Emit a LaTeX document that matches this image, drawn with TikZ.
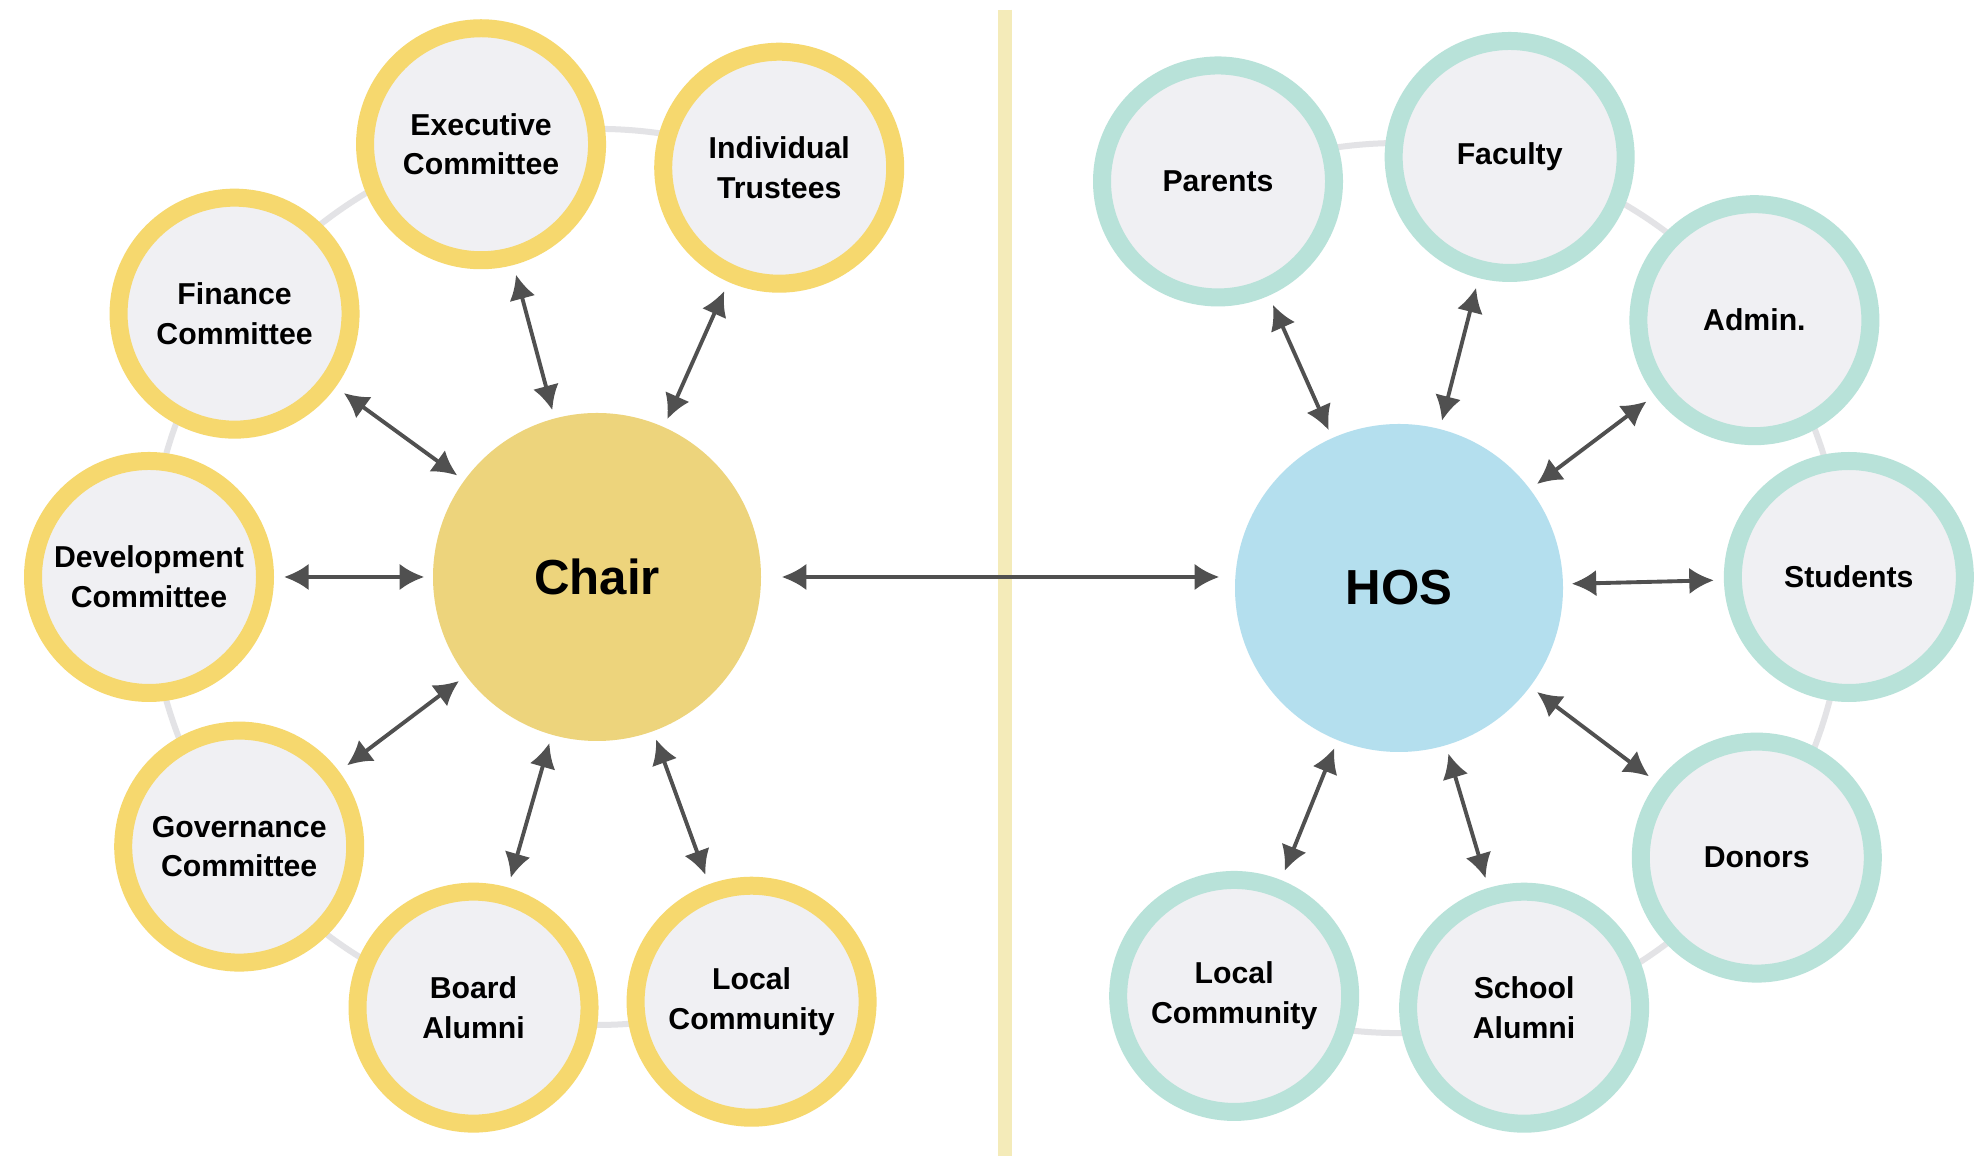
\documentclass[tikz,border=0pt]{standalone}
\usepackage{fontspec}
\setmainfont{Liberation Sans}
\usetikzlibrary{arrows.meta}
\definecolor{ringyellow}{HTML}{F6D86E}
\definecolor{ringteal}{HTML}{B8E2D9}
\definecolor{chairgold}{HTML}{EDD47C}
\definecolor{hosblue}{HTML}{B4DFEE}
\definecolor{bubblegrey}{HTML}{F0F0F3}
\definecolor{ringgrey}{HTML}{E3E3E6}
\definecolor{arrowgrey}{HTML}{505050}
\definecolor{divideryellow}{HTML}{F4EBB9}
\tikzset{
  bubble/.style={circle,fill=bubblegrey,line width=0.18cm,minimum size=2.32cm,inner sep=0pt,
    align=center,font=\fontsize{8.6}{11.3}\selectfont\bfseries},
  boardbubble/.style={bubble,draw=ringyellow},
  schoolbubble/.style={bubble,draw=ringteal},
  hub/.style={circle,minimum size=3.28cm,inner sep=0pt,font=\fontsize{14}{16}\selectfont\bfseries},
  link/.style={arrowgrey,line width=1.1pt,{Latex[length=7pt,width=7.5pt]}-{Latex[length=7pt,width=7.5pt]},
    shorten >=0.08cm,shorten <=0.1cm},
}

\begin{document}
\begin{tikzpicture}
    \useasboundingbox (0,0) rectangle (19.8,11.61);
    \fill[white] (0,0) rectangle (19.8,11.61);
    \draw[divideryellow,line width=0.14cm] (10.05,11.51) -- (10.05,0.05);
    % board side
    \begin{scope}[shift={(5.97,5.84)}]
      \draw[ringgrey,line width=0.06cm] (66:4.48) arc[start angle=66,end angle=290,radius=4.48];
      \node[hub,fill=chairgold] (chair) at (0,0) {Chair};
      \node[boardbubble] (trustees) at (66:4.48) {Individual\\Trustees};
      \node[boardbubble] (executive) at (105:4.48) {Executive\\Committee};
      \node[boardbubble] (finance) at (144:4.48) {Finance\\Committee};
      \node[boardbubble] (development) at (180:4.48) {Development\\Committee};
      \node[boardbubble] (governance) at (217:4.48) {Governance\\Committee};
      \node[boardbubble] (boardalumni) at (254:4.48) {Board\\Alumni};
      \node[boardbubble] (boardlocal) at (290:4.52) {Local\\Community};
      \foreach \n in {trustees,executive,finance,development,governance,boardalumni,boardlocal}
        \draw[link] (\n) to (chair);
    \end{scope}
    % school side
    \begin{scope}[shift={(13.99,5.73)}]
      \draw[ringgrey,line width=0.06cm] (-112:4.45) arc[start angle=-112,end angle=114,radius=4.45];
      \node[hub,fill=hosblue] (hos) at (0,0) {HOS};
      \node[schoolbubble] (parents) at (114:4.45) {Parents};
      \node[schoolbubble] (faculty) at (75.6:4.45) {Faculty};
      \node[schoolbubble] (admin) at (37:4.45) {Admin.};
      \node[schoolbubble] (students) at (1.4:4.5) {Students};
      \node[schoolbubble] (donors) at (-37:4.48) {Donors};
      \node[schoolbubble] (schoolalumni) at (-73.4:4.38) {School\\Alumni};
      \node[schoolbubble] (schoollocal) at (-112:4.4) {Local\\Community};
      \foreach \n in {parents,faculty,admin,students,donors,schoolalumni,schoollocal}
        \draw[link] (\n) to (hos);
    \end{scope}
    \draw[link,shorten <=0.2cm,shorten >=0.15cm] (chair.east) -- (chair.east -| hos.west);
\end{tikzpicture}
\end{document}
